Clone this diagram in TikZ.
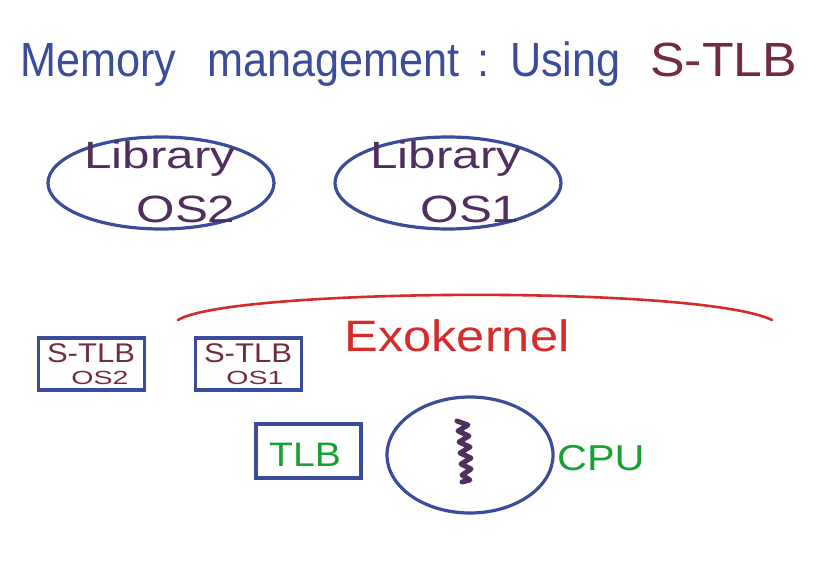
\documentclass[tikz,border=0pt]{standalone}
\usepackage{fontspec}
\setmainfont{Liberation Sans}
\newfontfamily\narrowf[FakeStretch=0.9]{Liberation Sans}
\newfontfamily\widef[FakeStretch=1.3]{Liberation Sans}
\newfontfamily\titlewf[FakeStretch=1.08]{Liberation Sans}
\newfontfamily\midf[FakeStretch=1.15]{Liberation Sans}
\newfontfamily\smallwf[FakeStretch=1.5]{Liberation Sans}
\usetikzlibrary{shapes.geometric}
\definecolor{penblue}{HTML}{3D4C9A}
\definecolor{maroon}{HTML}{722C40}
\definecolor{libtext}{HTML}{4E2F5E}
\definecolor{penred}{HTML}{D62B2B}
\definecolor{pengreen}{HTML}{15A233}
\begin{document}
\begin{tikzpicture}[x=1pt,y=-1pt,
  outline/.style={draw=penblue,line width=3.2pt},
  ovalbox/.style={outline,ellipse,minimum width=226pt,minimum height=92pt},
  tlbbox/.style={outline,rectangle,minimum width=106pt,minimum height=52pt},
  txt/.style={inner sep=0pt,anchor=center},
  titletxt/.style={inner sep=0pt,anchor=base west,font=\narrowf\fontsize{48}{52}\selectfont,text=penblue},
  libfont/.style={txt,font=\widef\fontsize{38}{40}\selectfont,text=libtext}]
\useasboundingbox (0,0) rectangle (825,564);
\fill[white] (0,0) rectangle (825,564);
% title
\node[titletxt] (t1) at (20,77) {Memory};
\node[titletxt] (t2) at (207,77) {management};
\node[titletxt] (t3) at (477,77) {:};
\node[titletxt] (t4) at (510,77) {Using};
\node[titletxt,font=\titlewf\fontsize{48}{52}\selectfont,text=maroon] (t5) at (650,77) {S-TLB};
% library ellipses
\node[ovalbox] (lib2) at (161,183) {};
\node[ovalbox] (lib1) at (448,183) {};
\node[libfont] (lib2a) at (160,159) {Library};
\node[libfont] (lib2b) at (186,209) {OS2};
\node[libfont] (lib1a) at (446,159) {Library};
\node[libfont] (lib1b) at (470,209) {OS1};
% exokernel arc
\coordinate (arcL) at (178,320);
\coordinate (arcR) at (772,320);
\draw[penred,line width=2.6pt,line cap=round] (arcL) .. controls (230,288) and (700,285) .. (arcR);
\node[txt,font=\midf\fontsize{44}{48}\selectfont,text=penred] (exo) at (457,336) {Exokernel};
% S-TLB boxes
\node[tlbbox] (stlb2) at (91.5,364) {};
\node[tlbbox] (stlb1) at (248.5,364) {};
\node[txt,font=\midf\fontsize{27}{30}\selectfont,text=maroon] (s2a) at (91,353) {S-TLB};
\node[txt,font=\smallwf\fontsize{19}{20}\selectfont,text=maroon] (s2b) at (100,378) {OS2};
\node[txt,font=\midf\fontsize{27}{30}\selectfont,text=maroon] (s1a) at (248,353) {S-TLB};
\node[txt,font=\smallwf\fontsize{19}{20}\selectfont,text=maroon] (s1b) at (255,378) {OS1};
% TLB box
\node[tlbbox,minimum width=105pt,minimum height=54pt] (tlb) at (308.5,451) {};
\node[txt,font=\midf\fontsize{34}{36}\selectfont,text=pengreen] (tlbt) at (305,455) {TLB};
% CPU
\node[outline,ellipse,minimum width=166pt,minimum height=116pt] (cpu) at (470,455) {};
\draw[libtext,line width=5pt,line join=round,line cap=round]
  (457,421) -- (468,425) -- (458,431) -- (469,436) -- (459,442) -- (470,447)
  -- (460,453) -- (471,458) -- (461,464) -- (471,469) -- (462,475) -- (470,480) -- (462,482);
\node[txt,font=\midf\fontsize{36}{40}\selectfont,text=pengreen,anchor=west] (cput) at (557,458) {CPU};
\end{tikzpicture}
\end{document}
